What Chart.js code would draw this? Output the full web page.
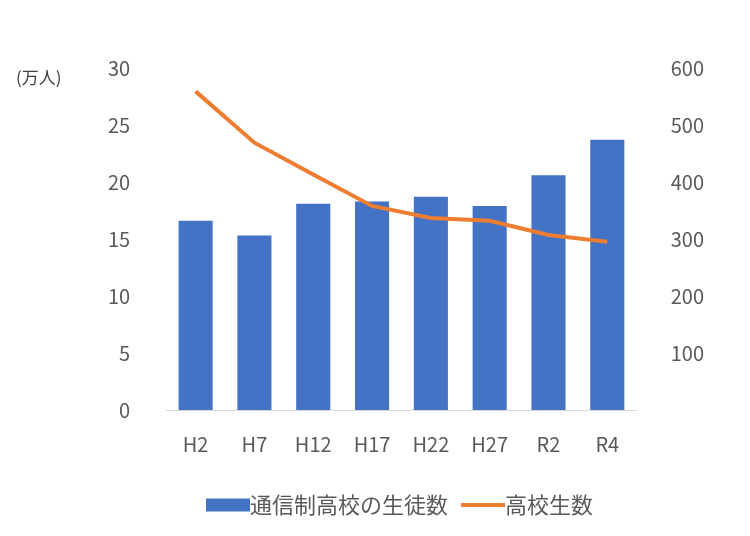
<!DOCTYPE html>
<html><head><meta charset="utf-8">
<script src="https://cdn.jsdelivr.net/npm/chart.js@4/dist/chart.umd.min.js"></script>
<style>body{margin:0;background:#fff}#wrap{position:relative;width:750px;height:536px}
#unit{position:absolute;left:16px;top:64px;font:17px "Noto Sans CJK JP";color:#404040}</style>
</head><body>
<div id="wrap"><canvas id="c" width="750" height="536"></canvas><div id="unit">(万人)</div></div>
<script>
// 年度ラベルと値
const labels = ['H2','H7','H12','H17','H22','H27','R2','R4'];
const studentsTsushin = [16.6, 15.3, 18.1, 18.3, 18.7, 17.9, 20.6, 23.7];
const studentsKoko = [559, 469, 413, 358, 337, 332, 307, 295];

// 凡例用のマーク
function legendMark(color, h) {
    const cv = document.createElement('canvas');
    cv.width = 44; cv.height = 14;
    const g = cv.getContext('2d');
    g.fillStyle = color;
    g.fillRect(0, (14 - h) / 2, 44, h);
    return cv;
}

const tickFont = { family: 'Noto Sans CJK JP', size: 20 };
new Chart(document.getElementById('c'), {
    data: {
        labels,
        datasets: [
            { type: 'line', label: '高校生数', data: studentsKoko, yAxisID: 'y2', borderColor: '#ed7d31', borderWidth: 4, pointRadius: 0, tension: 0, pointStyle: legendMark('#ed7d31', 4) },
            { type: 'bar', label: '通信制高校の生徒数', data: studentsTsushin, yAxisID: 'y', backgroundColor: '#4472c4', barPercentage: 0.58, categoryPercentage: 1, pointStyle: legendMark('#4472c4', 13) }
        ]
    },
    options: {
        responsive: false, animation: false,
        layout: { padding: { top: 68, left: 80, right: 20, bottom: 10 } },
        scales: {
            x: { grid: { display: false }, border: { color: '#d9d9d9' }, ticks: { color: '#595959', font: tickFont, padding: 14 } },
            y: { min: 0, max: 30, ticks: { stepSize: 5, color: '#595959', font: tickFont, padding: 28 }, grid: { display: false }, border: { display: false } },
            y2: { position: 'right', min: 0, max: 600, ticks: { stepSize: 100, color: '#595959', font: tickFont, padding: 26, callback: v => v === 0 ? '' : v }, grid: { display: false }, border: { display: false } }
        },
        plugins: {
            legend: { position: 'bottom', reverse: true, labels: { usePointStyle: true, color: '#595959', font: { family: 'Noto Sans CJK JP', size: 22 }, padding: 24 } },
            tooltip: { enabled: false }
        }
    }
});
</script>
</body></html>
